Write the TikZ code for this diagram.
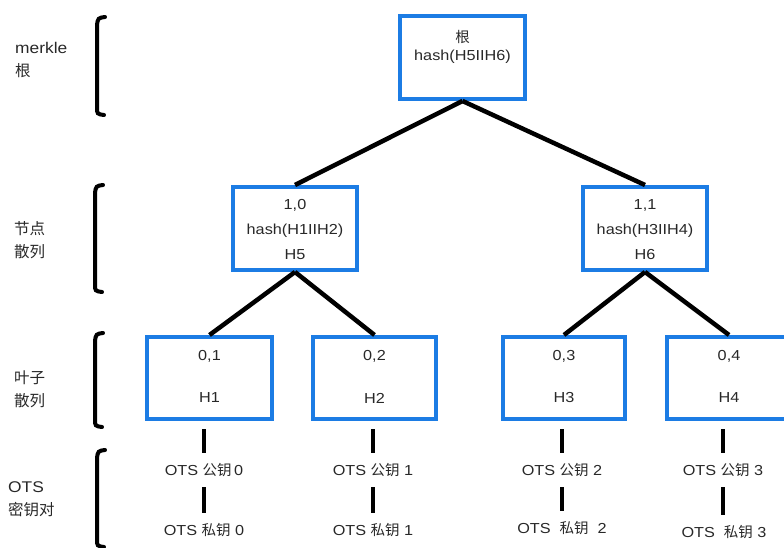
\documentclass[tikz,border=0pt]{standalone}
\usepackage{fontspec}
\setmainfont{Liberation Sans}[FakeStretch=1.12]
\newfontfamily\cjkf{Noto Sans CJK SC}
\newcommand\zh[1]{{\cjkf #1}}
\definecolor{boxblue}{RGB}{28,124,228}
\definecolor{txtgray}{RGB}{40,40,40}
\tikzset{
  hbox/.style={draw=boxblue, line width=4pt, inner sep=0pt, minimum height=83pt},
  edge/.style={line width=4.5pt},
  keyline/.style={line width=4pt},
  txt/.style={inner sep=0pt, text=txtgray, font=\fontsize{14.5}{16}\selectfont},
  keytxt/.style={inner sep=0pt, minimum height=34pt, text=txtgray, font=\fontsize{14.5}{16}\selectfont},
  side/.style={inner sep=0pt, anchor=west, align=left, text=txtgray, font=\fontsize{15.5}{23}\selectfont},
  brk/.style={line width=4pt, line cap=round},
}
\newcommand\mybracket[3]{%
  \draw[brk] (#1+8,#2) .. controls (#1+1,#2+1) .. (#1,#2+8) -- (#1,#3-8) .. controls (#1,#3-1) .. (#1+7,#3);}
\begin{document}
\begin{tikzpicture}[x=1pt,y=-1pt]
\path[use as bounding box, clip] (0,0) rectangle (784,548);

% side labels
\node[side] (lab1) at (15,60) {merkle\\\zh{根}};
\node[side] (lab2) at (14,240) {\zh{节点}\\\zh{散列}};
\node[side] (lab3) at (14,389) {\zh{叶子}\\\zh{散列}};
\node[side] (lab4) at (8,499) {OTS\\\zh{密钥对}};

% brackets
\mybracket{97}{17}{115}
\mybracket{95}{185}{292}
\mybracket{95}{333}{427}
\mybracket{97}{450}{547}

% root
\node[hbox, minimum width=125pt] (root) at (462.5,57.5) {};
\node[txt] (rootA) at (462.5,37) {\zh{根}};
\node[txt] (rootB) at (462.5,57) {hash(H5IIH6)};

% level 1
\node[hbox, minimum width=124pt] (H5) at (295,228.5) {};
\node[txt] (H5a) at (295,205) {1,0};
\node[txt] (H5b) at (295,231) {hash(H1IIH2)};
\node[txt] (H5c) at (295,255) {H5};

\node[hbox, minimum width=124pt] (H6) at (645,228.5) {};
\node[txt] (H6a) at (645,205) {1,1};
\node[txt] (H6b) at (645,231) {hash(H3IIH4)};
\node[txt] (H6c) at (645,255) {H6};

% leaves
\node[hbox, minimum width=125pt, minimum height=82pt] (H1) at (209.5,378) {};
\node[txt] (H1a) at (209.5,356) {0,1};
\node[txt] (H1b) at (209.5,398) {H1};
\node[hbox, minimum width=123pt, minimum height=82pt] (H2) at (374.5,378) {};
\node[txt] (H2a) at (374.5,356) {0,2};
\node[txt] (H2b) at (374.5,398) {H2};
\node[hbox, minimum width=122pt, minimum height=82pt] (H3) at (564,378) {};
\node[txt] (H3a) at (564,356) {0,3};
\node[txt] (H3b) at (564,398) {H3};
\node[hbox, minimum width=124pt, minimum height=82pt] (H4) at (729,378) {};
\node[txt] (H4a) at (729,356) {0,4};
\node[txt] (H4b) at (729,398) {H4};

% tree edges
\draw[edge] (root.south) -- (H5.north);
\draw[edge] (root.south) -- (H6.north);
\draw[edge] (H5.south) -- (H1.north);
\draw[edge] (H5.south) -- (H2.north);
\draw[edge] (H6.south) -- (H3.north);
\draw[edge] (H6.south) -- (H4.north);

% OTS keys
\node[keytxt] (pub0) at (204,470) {OTS \zh{公钥}\,0};
\node[keytxt] (priv0) at (204,530) {OTS \zh{私钥} 0};
\node[keytxt] (pub1) at (373,470) {OTS \zh{公钥} 1};
\node[keytxt] (priv1) at (373,530) {OTS \zh{私钥} 1};
\node[keytxt] (pub2) at (562,470) {OTS \zh{公钥} 2};
\node[keytxt] (priv2) at (562,528) {OTS \ \zh{私钥} \ 2};
\node[keytxt] (pub3) at (723,470) {OTS \zh{公钥} 3};
\node[keytxt] (priv3) at (724,532) {OTS \ \zh{私钥} 3};

\foreach \l/\k in {H1/0,H2/1,H3/2,H4/3}{
  \draw[keyline, shorten <=8pt] (pub\k.north |- \l.south) -- (pub\k.north);
  \draw[keyline] (pub\k.south) -- (pub\k.south |- priv\k.north);
}
\end{tikzpicture}
\end{document}
